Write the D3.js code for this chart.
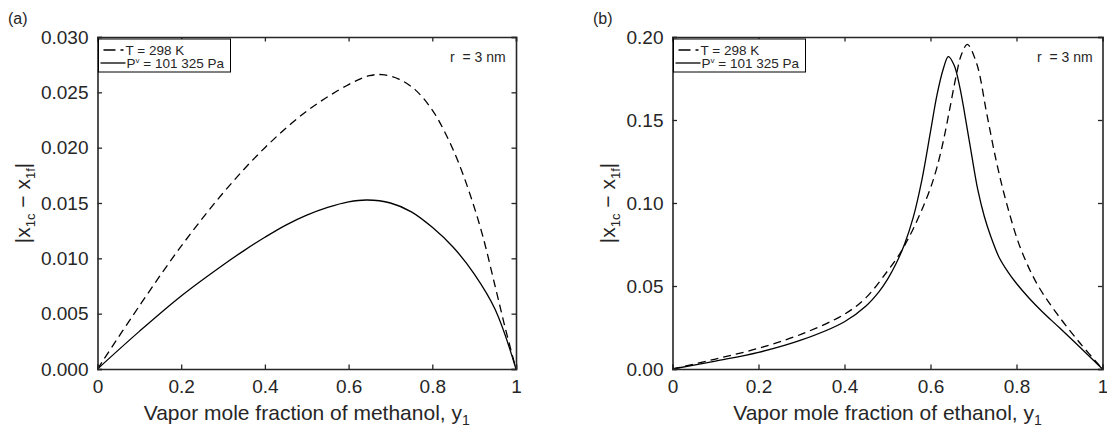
<!DOCTYPE html>
<html><head><meta charset="utf-8">
<script src="https://cdn.jsdelivr.net/npm/d3@7"></script>
<style>
body{margin:0;background:#fff}
svg{display:block}
text{font-family:"Liberation Sans",Arial,Helvetica,sans-serif;fill:#262626}
</style>
</head><body>
<svg id="c" width="1107" height="428"></svg>
<script>
// ---- data ----
const xTicks = [0, 0.2, 0.4, 0.6, 0.8, 1];
const xTickLabels = ["0", "0.2", "0.4", "0.6", "0.8", "1"];
const yTicksA = [0, 0.005, 0.010, 0.015, 0.020, 0.025, 0.030];
const yTickLabelsA = ["0.000", "0.005", "0.010", "0.015", "0.020", "0.025", "0.030"];
const yTicksB = [0, 0.05, 0.10, 0.15, 0.20];
const yTickLabelsB = ["0.00", "0.05", "0.10", "0.15", "0.20"];
const seriesNames = ["T = 298 K", "P = 101 325 Pa"];

// panel (a) methanol
const aTx = [0, 0.1, 0.2, 0.3, 0.4, 0.5, 0.6, 0.65, 0.68, 0.72, 0.76, 0.80, 0.83, 0.86, 0.89, 0.92, 0.95, 0.975, 1];
const aTy = [0, 0.0057, 0.0111, 0.0159, 0.0200, 0.0233, 0.0257, 0.0265, 0.0266, 0.0262, 0.0252, 0.0234, 0.0214, 0.0189, 0.0158, 0.0121, 0.0075, 0.0036, 0];
const aPx = [0, 0.1, 0.2, 0.3, 0.35, 0.4, 0.45, 0.5, 0.55, 0.6, 0.644, 0.7, 0.75, 0.8, 0.85, 0.9, 0.95, 1];
const aPy = [0, 0.0034, 0.0066, 0.0094, 0.0107, 0.0119, 0.0130, 0.0139, 0.0146, 0.0151, 0.01527, 0.0150, 0.0142, 0.0128, 0.0110, 0.0086, 0.0054, 0];

// panel (b) ethanol
const bTx = [0, 0.1, 0.2, 0.3, 0.4, 0.45, 0.5, 0.53, 0.545, 0.56, 0.58, 0.60, 0.615, 0.63, 0.645, 0.66, 0.672, 0.6856, 0.7074, 0.7307, 0.754, 0.777, 0.808, 0.847, 0.8935, 0.948, 1];
const bTy = [0, 0.0060, 0.0125, 0.0210, 0.0330, 0.0430, 0.0590, 0.0700, 0.0770, 0.0845, 0.0960, 0.1090, 0.1215, 0.1375, 0.1570, 0.1770, 0.1895, 0.1955, 0.1840, 0.1540, 0.1240, 0.0998, 0.0737, 0.0516, 0.0335, 0.0155, 0];
const bPx = [0, 0.1, 0.2, 0.3, 0.4, 0.45, 0.48, 0.50, 0.52, 0.54, 0.56, 0.58, 0.60, 0.615, 0.63, 0.6415, 0.655, 0.668, 0.68, 0.695, 0.71, 0.725, 0.74, 0.76, 0.78, 0.80, 0.83, 0.86, 0.90, 0.95, 1];
const bPy = [0, 0.0048, 0.0100, 0.0175, 0.0285, 0.0380, 0.0465, 0.0540, 0.0635, 0.0755, 0.0915, 0.1140, 0.1430, 0.1650, 0.1810, 0.1882, 0.1830, 0.1700, 0.1530, 0.1300, 0.1080, 0.0920, 0.0800, 0.0670, 0.0585, 0.0515, 0.0425, 0.0345, 0.0248, 0.0125, 0];

// ---- layout ----
const svg = d3.select("#c");
const panels = [
  {tag: "(a)", tagX: 8, left: 97.5, right: 516, yMax: 0.030, yTicks: yTicksA, yLabels: yTickLabelsA,
   T: [aTx, aTy], P: [aPx, aPy], compound: "methanol", ylabX: 30, rX: 450},
  {tag: "(b)", tagX: 593, left: 672.5, right: 1102.5, yMax: 0.20, yTicks: yTicksB, yLabels: yTickLabelsB,
   T: [bTx, bTy], P: [bPx, bPy], compound: "ethanol", ylabX: 615, rX: 1037}
];
const plotTop = 37, plotBottom = 369;
const axisColor = "#262626";

panels.forEach(p => {
  const x = d3.scaleLinear().domain([0, 1]).range([p.left, p.right]);
  const y = d3.scaleLinear().domain([0, p.yMax]).range([plotBottom, plotTop]);
  const g = svg.append("g");

  // curves
  const line = d3.line().x(d => x(d[0])).y(d => y(d[1])).curve(d3.curveCatmullRom.alpha(0.5));
  const tData = p.T[0].map((v, i) => [v, p.T[1][i]]);
  const pData = p.P[0].map((v, i) => [v, p.P[1][i]]);
  g.append("path").attr("d", line(tData)).attr("fill", "none").attr("stroke", "#000")
    .attr("stroke-width", 1.3).attr("stroke-dasharray", "8,5");
  g.append("path").attr("d", line(pData)).attr("fill", "none").attr("stroke", "#000")
    .attr("stroke-width", 1.3);

  // axes (box with inward ticks)
  const tl = 4.5;
  const axB = d3.axisBottom(x).tickValues(xTicks).tickSize(-tl).tickFormat((d, i) => xTickLabels[i]).tickPadding(10);
  const axT = d3.axisTop(x).tickValues(xTicks).tickSize(-tl).tickFormat("");
  const axL = d3.axisLeft(y).tickValues(p.yTicks).tickSize(-tl).tickFormat((d, i) => p.yLabels[i]).tickPadding(9);
  const axR = d3.axisRight(y).tickValues(p.yTicks).tickSize(-tl).tickFormat("");
  const gb = g.append("g").attr("transform", `translate(0,${plotBottom})`).call(axB);
  const gt = g.append("g").attr("transform", `translate(0,${plotTop})`).call(axT);
  const gl = g.append("g").attr("transform", `translate(${p.left},0)`).call(axL);
  const gr = g.append("g").attr("transform", `translate(${p.right},0)`).call(axR);
  [gb, gt, gl, gr].forEach(a => {
    a.select(".domain").attr("stroke", axisColor).attr("stroke-width", 1.6);
    a.selectAll(".tick line").attr("stroke", axisColor).attr("stroke-width", 1.3);
    a.selectAll("text").attr("font-family", null).style("font-size", "19px").attr("fill", axisColor);
  });
  gb.selectAll(".tick text").attr("dy", "0.75em");

  // x-axis label
  const xl = g.append("text").attr("x", (p.left + p.right) / 2).attr("y", 420)
    .attr("text-anchor", "middle").style("font-size", "21px");
  xl.append("tspan").text(`Vapor mole fraction of ${p.compound}, y`);
  xl.append("tspan").attr("dy", 5).style("font-size", "14px").text("1");

  // y-axis label
  const yl = g.append("text").attr("transform", `translate(${p.ylabX},${(plotTop + plotBottom) / 2}) rotate(-90)`)
    .attr("text-anchor", "middle").style("font-size", "21px");
  yl.append("tspan").text("|x");
  yl.append("tspan").attr("dy", 5).style("font-size", "13px").text("1c");
  yl.append("tspan").attr("dy", -5).text(" \u2212 x");
  yl.append("tspan").attr("dy", 5).style("font-size", "13px").text("1f");
  yl.append("tspan").attr("dy", -5).text("|");

  // panel tag
  g.append("text").attr("x", p.tagX).attr("y", 24).style("font-size", "16px").text(p.tag);

  // r = 3 nm
  g.append("text").attr("x", p.rX).attr("y", 62).style("font-size", "14px")
    .attr("xml:space", "preserve").style("white-space", "pre").text("r  = 3 nm");

  // legend
  const lx = p.left + 1, ly = 39;
  g.append("rect").attr("x", lx).attr("y", ly).attr("width", 132).attr("height", 33)
    .attr("fill", "#fff").attr("stroke", "#000").attr("stroke-width", 1);
  g.append("line").attr("x1", lx + 5).attr("x2", lx + 25).attr("y1", ly + 11).attr("y2", ly + 11)
    .attr("stroke", "#000").attr("stroke-width", 1.3).attr("stroke-dasharray", "12,5");
  g.append("line").attr("x1", lx + 2).attr("x2", lx + 27).attr("y1", ly + 24).attr("y2", ly + 24)
    .attr("stroke", "#000").attr("stroke-width", 1.3);
  g.append("text").attr("x", lx + 27).attr("y", ly + 16).style("font-size", "13.5px").attr("fill", "#000").text(seriesNames[0]);
  const t2 = g.append("text").attr("x", lx + 28).attr("y", ly + 29).style("font-size", "13.5px").attr("fill", "#000");
  t2.append("tspan").text("P");
  t2.append("tspan").attr("dy", -5).style("font-size", "8px").text("v");
  t2.append("tspan").attr("dy", 5).text(seriesNames[1].slice(1));
});
</script>
</body></html>
